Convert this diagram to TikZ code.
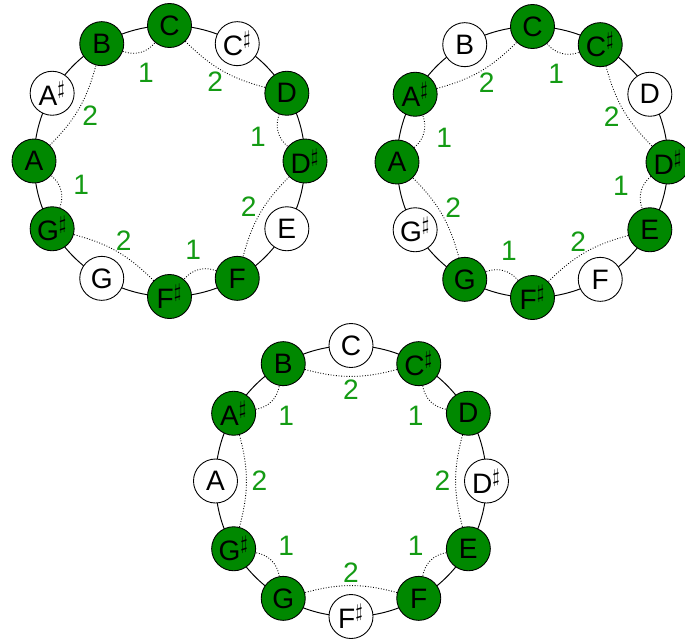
\documentclass[tikz,border=0pt]{standalone}
\usepackage{fontspec}
\setmainfont{Liberation Sans}
\usepackage{xcolor}
\usepackage{tikz}
\usetikzlibrary{arrows.meta,calc}
\definecolor{keygreen}{RGB}{0,136,0}
\definecolor{stepgreen}{RGB}{20,155,20}

\begin{document}
\begin{tikzpicture}[
  ring/.style={line width=0.55pt},
  key/.style={circle,draw,line width=0.5pt,fill=keygreen,minimum size=0.88cm,inner sep=0pt,font=\fontsize{16}{18}\selectfont},
  off/.style={key,fill=white},
  link/.style={densely dotted,line width=0.5pt,black},
  semi/.style={stepgreen,font=\fontsize{16}{18}\selectfont,inner sep=0pt}]
  \useasboundingbox (0,0) rectangle (13.7,-12.86);
  % C minor-ish ring, top left
  \begin{scope}[shift={(3.39,-3.22)}]
    \draw[ring] (0,0) circle (2.71);
    \foreach \n/\t/\f [count=\i from 0] in {C/C/key,Cs/C$^\sharp$/off,D/D/key,Ds/D$^\sharp$/key,E/E/off,F/F/key,
        Fs/F$^\sharp$/key,G/G/off,Gs/G$^\sharp$/key,A/A/key,As/A$^\sharp$/off,B/B/key}
      \node[\f] (a\n) at (90-30*\i:2.71) {\t};
    \foreach \p/\q/\s/\w [count=\k] in {B/C/1/105,C/D/2/60,D/Ds/1/15,Ds/F/2/-30,F/Fs/1/-75,Fs/Gs/2/-120,Gs/A/1/-165,A/B/2/150}{
      \ifnum\s=1 \draw[link] (a\p) to[bend right=35] (a\q);
      \else \draw[link] (a\p) to[bend right=15] (a\q); \fi
      \node[semi] (as\k) at (\w:1.83) {\s};}
  \end{scope}
  % top right ring
  \begin{scope}[shift={(10.65,-3.24)}]
    \draw[ring] (0,0) circle (2.71);
    \foreach \n/\t/\f [count=\i from 0] in {C/C/key,Cs/C$^\sharp$/key,D/D/off,Ds/D$^\sharp$/key,E/E/key,F/F/off,
        Fs/F$^\sharp$/key,G/G/key,Gs/G$^\sharp$/off,A/A/key,As/A$^\sharp$/key,B/B/off}
      \node[\f] (b\n) at (90-30*\i:2.71) {\t};
    \foreach \p/\q/\s/\w [count=\k] in {C/Cs/1/75,Cs/Ds/2/30,Ds/E/1/-15,E/Fs/2/-60,Fs/G/1/-105,G/A/2/-150,A/As/1/165,As/C/2/120}{
      \ifnum\s=1 \draw[link] (b\p) to[bend right=35] (b\q);
      \else \draw[link] (b\p) to[bend right=15] (b\q); \fi
      \node[semi] (bs\k) at (\w:1.83) {\s};}
  \end{scope}
  % bottom ring
  \begin{scope}[shift={(7.02,-9.62)}]
    \draw[ring] (0,0) circle (2.71);
    \foreach \n/\t/\f [count=\i from 0] in {C/C/off,Cs/C$^\sharp$/key,D/D/key,Ds/D$^\sharp$/off,E/E/key,F/F/key,
        Fs/F$^\sharp$/off,G/G/key,Gs/G$^\sharp$/key,A/A/off,As/A$^\sharp$/key,B/B/key}
      \node[\f] (c\n) at (90-30*\i:2.71) {\t};
    \foreach \p/\q/\s/\w [count=\k] in {B/Cs/2/90,Cs/D/1/45,D/E/2/0,E/F/1/-45,F/G/2/-90,G/Gs/1/-135,Gs/As/2/180,As/B/1/135}{
      \ifnum\s=1 \draw[link] (c\p) to[bend right=35] (c\q);
      \else \draw[link] (c\p) to[bend right=15] (c\q); \fi
      \node[semi] (cs\k) at (\w:1.83) {\s};}
  \end{scope}
\end{tikzpicture}
\end{document}
